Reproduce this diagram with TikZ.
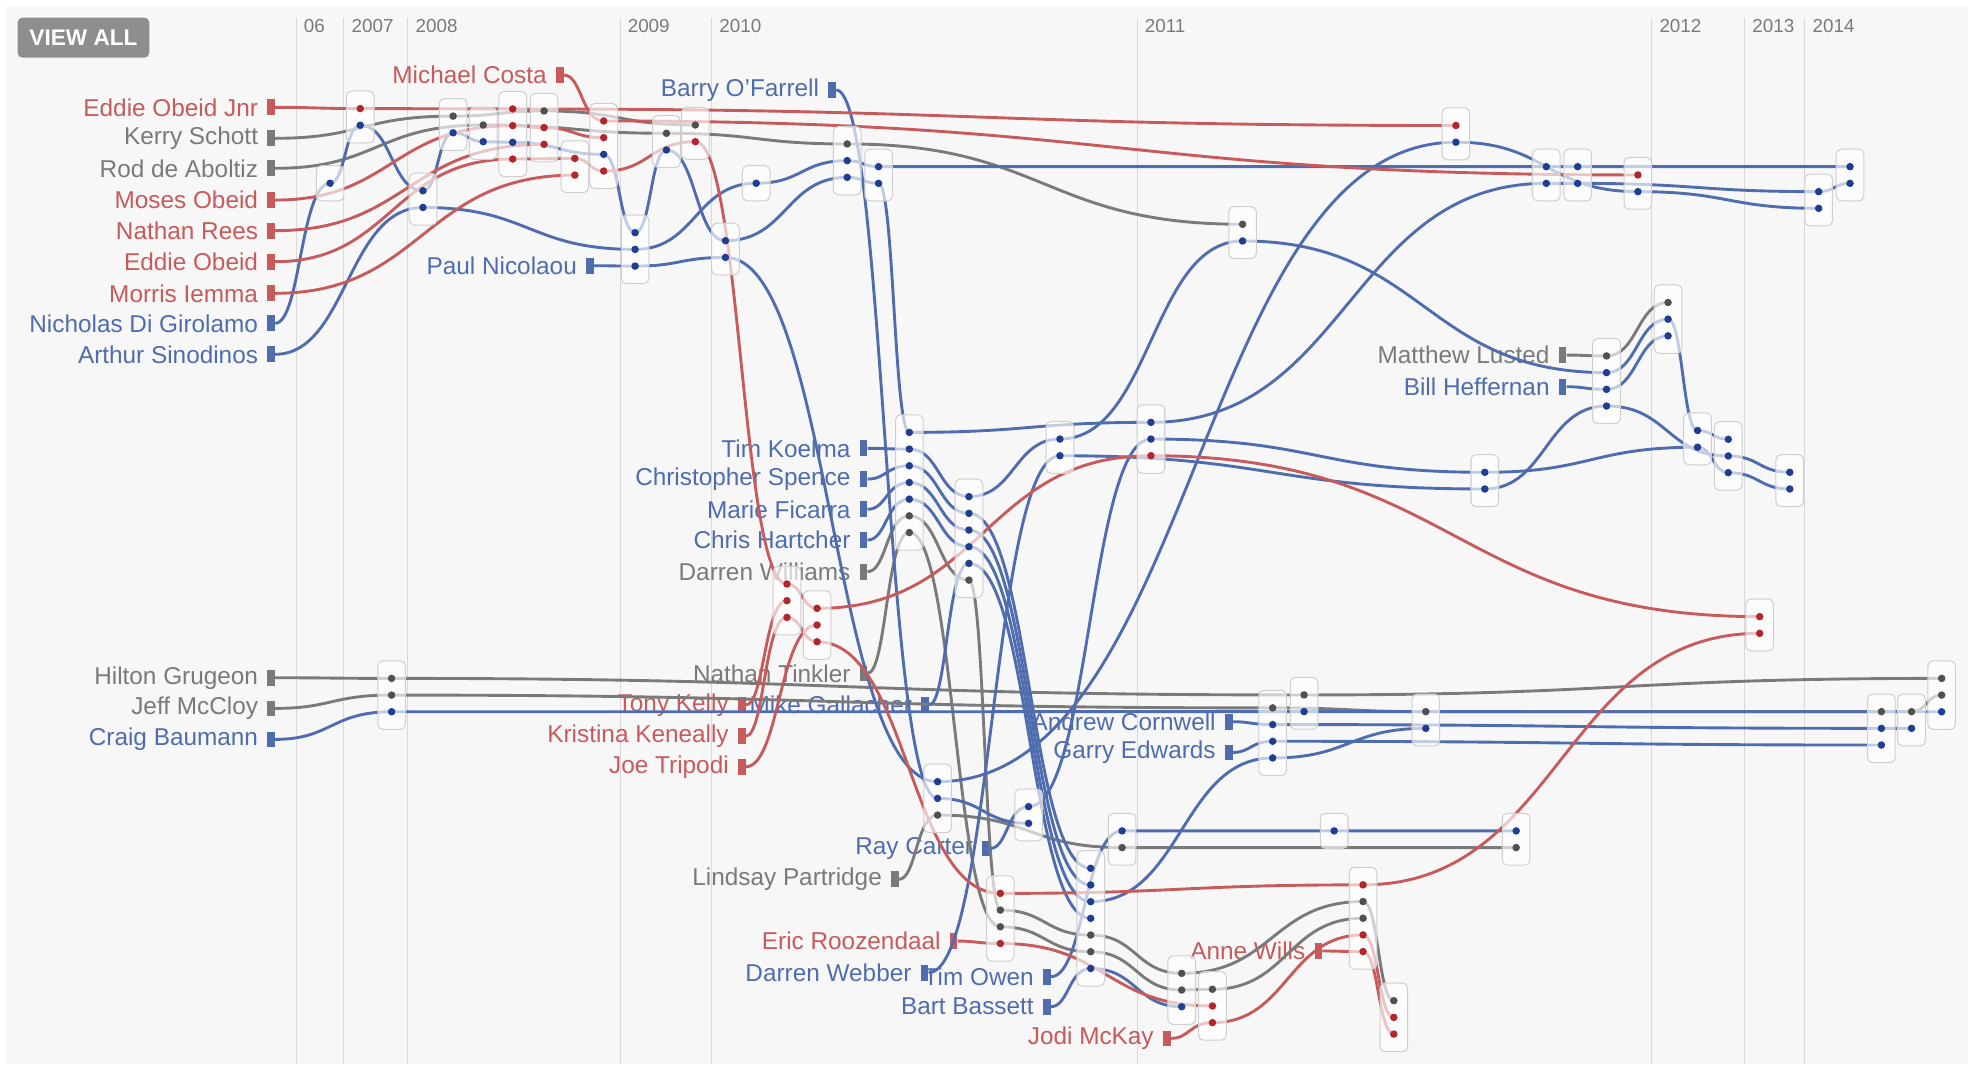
\documentclass[tikz,border=0pt]{standalone}
\usepackage{fontspec}
\setmainfont{Liberation Sans}
\usetikzlibrary{calc,fit}

\definecolor{alpline}{HTML}{C75A5A}
\definecolor{libline}{HTML}{4F6DAE}
\definecolor{indline}{HTML}{7A7A7A}
\definecolor{dotr}{HTML}{B3262B}
\definecolor{dotb}{HTML}{1E3F91}
\definecolor{dotg}{HTML}{505050}
\definecolor{bggray}{HTML}{F7F7F7}
\definecolor{yearline}{HTML}{D9D9D9}
\definecolor{boxedge}{HTML}{CFCFCF}

% meeting groups: name/x/first dot/colours
\newcommand\grplist{%
b1/287/86.5/{r,b},
b2/263/146/{b},
b3/337/152/{b,b},
b4/361/92.5/{g,b},
b5/385/99.6/{g,b},
b6/408.5/86.8/{r,r,b,r},
b7/433.5/88.4/{g,r,r},
b8/458/126.2/{r,r},
b9/481/96.4/{r,r,b,r},
b10/506/185.4/{b,b,b},
b11/531/106.2/{g,b},
b12/554/99.6/{g,r},
b13/602.5/146/{b},
b14/578/191.8/{b,b},
b15/675/114.7/{g,b,b},
b16/700/132.8/{b,b},
b17/990/178.7/{g,b},
b18/1160/100/{r,b},
b19/1232/132.8/{b,b},
b20/1257/132.8/{b,b},
b21/1305/139.4/{r,b},
b22/1449/152.7/{b,b},
b23/1474/132.8/{b,b},
b24/1329/241/{g,b,b},
b25/1280/283.6/{g,b,b,b},
b26/1183/376.3/{b,b},
b27/1352.5/343/{b,b},
b28/1377/350/{b,b,b},
b29/1426/376.3/{b,b},
b30/1402/491.3/{r,r},
b31/1547/540.5/{g,g,b},
b32/1523/567/{g,b},
b33/1499/567/{g,b,b},
b34/1136/567/{g,b},
b35/1039/553.7/{g,b},
b36/1014/564/{g,b,b,b},
b37/724.5/344.5/{b,b,b,b,b,g,g},
b38/772/395.7/{b,b,b,b,b,g},
b39/844.5/349.8/{b,b},
b40/917/336.5/{b,b,r},
b41/627/465.3/{r,r,r},
b42/651/484.7/{r,r,r},
b43/312/540.5/{g,g,b},
b44/747/622.8/{b,b,g},
b45/819.5/642.7/{b,b},
b46/894/662/{b,g},
b47/1063/662/{b},
b48/1208/662/{b,g},
b49/797/711.8/{r,g,g,r},
b50/869/691.8/{b,b,b,b,g,g,b},
b51/941.5/775.5/{g,g,b},
b52/966/788.2/{g,r,r},
b53/1086/705/{r,g,g,r,r},
b54/1110.5/797.3/{g,r,r}}

\begin{document}
\begin{tikzpicture}[x=1pt,y=-1pt,
    font=\fontsize{19.4}{21}\selectfont,
    lk/.style={to path={.. controls ($(\tikztostart)!.5!(\tikztotarget |- \tikztostart)$) and ($(\tikztotarget)!.5!(\tikztostart |- \tikztotarget)$) .. (\tikztotarget)}},
    alp/.style={draw=alpline, line width=2.3pt},
    lib/.style={draw=libline, line width=2.3pt},
    ind/.style={draw=indline, line width=2.3pt},
    who/.style 2 args={fill=#1, inner sep=0pt, minimum width=6pt, minimum height=12.5pt,
        label={[text=#1, inner sep=0pt, label distance=7pt]left:#2}},
    grpbox/.style={draw=boxedge, line width=0.8pt, fill=white, fill opacity=0.65,
        rounded corners=4pt, inner xsep=11pt, inner ysep=14pt},
    yr/.style={text=indline, font=\fontsize{15}{17}\selectfont, anchor=west, inner sep=0pt}]

\useasboundingbox (0,0) rectangle (1568,848);
\fill[bggray] (5,5) rectangle (1568,848);

% years
\foreach \yx/\yl in {236/06, 274/2007, 325/2008, 494/2009, 567/2010, 906/2011, 1316/2012, 1390/2013, 1438/2014} {
    \draw[yearline, line width=0.8pt] (\yx,14) -- (\yx,848);
    \node[yr] (yr-\yl) at (\yx+6,21) {\yl};
}
\node[fill=indline!85, rounded corners=4pt, text=white, font=\bfseries\fontsize{18}{19}\selectfont,
    minimum width=105pt, minimum height=32pt, inner sep=0pt] (viewall) at (66.5,30) {VIEW ALL};

% dot positions
\foreach \nm/\bx/\by/\cols in \grplist {
    \foreach \c [count=\i] in \cols
        \coordinate (\nm-\i) at (\bx,\by+13.3*\i-13.3);
}

% Labor
\node[who={alpline}{Eddie Obeid Jnr}] (eoj) at (216,85.5) {};
\node[who={alpline}{Moses Obeid}] (moses) at (216,159.4) {};
\node[who={alpline}{Nathan Rees}] (rees) at (216,183.8) {};
\node[who={alpline}{Eddie Obeid}] (eddie) at (216,208.5) {};
\node[who={alpline}{Morris Iemma}] (iemma) at (216,233.7) {};
\node[who={alpline}{Michael Costa}] (costa) at (446,59.8) {};
\node[who={alpline}{Tony Kelly}] (kelly) at (591,561.7) {};
\node[who={alpline}{Kristina Keneally}] (keneally) at (591,586.5) {};
\node[who={alpline}{Joe Tripodi}] (tripodi) at (591,610.9) {};
\node[who={alpline}{Eric Roozendaal}] (roozendaal) at (759.8,749.8) {};
\node[who={alpline}{Jodi McKay}] (mckay) at (929.6,827.3) {};
\node[who={alpline}{Anne Wills}] (wills) at (1050.4,757.7) {};

% Liberal
\node[who={libline}{Nicholas Di Girolamo}] (girolamo) at (216,257.6) {};
\node[who={libline}{Arthur Sinodinos}] (sinodinos) at (216,282.3) {};
\node[who={libline}{Craig Baumann}] (baumann) at (216,589.1) {};
\node[who={libline}{Barry O'Farrell}] (ofarrell) at (663,71.7) {};
\node[who={libline}{Paul Nicolaou}] (nicolaou) at (470,211.7) {};
\node[who={libline}{Tim Koelma}] (koelma) at (688,357.2) {};
\node[who={libline}{Christopher Spence}] (spence) at (688,381.7) {};
\node[who={libline}{Marie Ficarra}] (ficarra) at (688,405.8) {};
\node[who={libline}{Chris Hartcher}] (hartcher) at (688,430.3) {};
\node[who={libline}{Mike Gallacher}] (gallacher) at (737,561.7) {};
\node[who={libline}{Andrew Cornwell}] (cornwell) at (979,575) {};
\node[who={libline}{Garry Edwards}] (edwards) at (979,599.5) {};
\node[who={libline}{Bill Heffernan}] (heffernan) at (1245,308.1) {};
\node[who={libline}{Ray Carter}] (carter) at (785.7,676) {};
\node[who={libline}{Darren Webber}] (webber) at (736.6,775) {};
\node[who={libline}{Tim Owen}] (owen) at (834,778.2) {};
\node[who={libline}{Bart Bassett}] (bassett) at (834,802.1) {};

% others
\node[who={indline}{Kerry Schott}] (schott) at (216,110.2) {};
\node[who={indline}{Rod de Aboltiz}] (aboltiz) at (216,134.1) {};
\node[who={indline}{Hilton Grugeon}] (grugeon) at (216,540) {};
\node[who={indline}{Jeff McCloy}] (mccloy) at (216,564.4) {};
\node[who={indline}{Darren Williams}] (williams) at (688,455.5) {};
\node[who={indline}{Nathan Tinkler}] (tinkler) at (688,536.5) {};
\node[who={indline}{Matthew Lusted}] (lusted) at (1245,282.9) {};
\node[who={indline}{Lindsay Partridge}] (partridge) at (713,700.6) {};

% storylines
\draw[ind] (schott) to[lk] (b4-1) to[lk] (b7-1) to[lk] (b12-1);
\draw[ind] (aboltiz) to[lk] (b5-1) to[lk] (b11-1) to[lk] (b15-1) to[lk] (b17-1);
\draw[ind] (lusted) to[lk] (b25-1) to[lk] (b24-1);
\draw[ind] (grugeon) to[lk] (b43-1) to[lk] (b35-1) to[lk] (b31-1);
\draw[ind] (mccloy) to[lk] (b43-2) to[lk] (b36-1) to[lk] (b34-1) to[lk] (b33-1) to[lk] (b32-1) to[lk] (b31-2);
\draw[ind] (williams) to[lk] (b37-6) to[lk] (b38-6) to[lk] (b49-2) to[lk] (b50-5) to[lk] (b51-1) to[lk] (b53-2) to[lk] (b54-1);
\draw[ind] (tinkler) to[lk] (b37-7) to[lk] (b49-3) to[lk] (b50-6) to[lk] (b51-2) to[lk] (b52-1) to[lk] (b53-3);
\draw[ind] (partridge) to[lk] (b44-3) to[lk] (b46-2) to[lk] (b48-2);

\draw[lib] (girolamo) to[lk] (b2-1) to[lk] (b1-2) to[lk] (b3-1) to[lk] (b4-2) to[lk] (b5-2) to[lk] (b6-3)
    to[lk] (b9-3) to[lk] (b10-1) to[lk] (b11-2) to[lk] (b14-1) to[lk] (b15-3) to[lk] (b16-2) to[lk] (b37-1)
    to[lk] (b40-1) to[lk] (b19-2) to[lk] (b20-2) to[lk] (b22-1) to[lk] (b23-2);
\draw[lib] (sinodinos) to[lk] (b3-2) to[lk] (b10-2) to[lk] (b13-1) to[lk] (b15-2) to[lk] (b16-1)
    to[lk] (b19-1) to[lk] (b20-1) to[lk] (b23-1);
\draw[lib] (nicolaou) to[lk] (b10-3) to[lk] (b14-2) to[lk] (b44-1) to[lk] (b18-2) to[lk] (b21-2) to[lk] (b22-2);
\draw[lib] (ofarrell) to[lk] (b44-2) to[lk] (b45-2);
\draw[lib] (koelma) to[lk] (b37-2) to[lk] (b38-1) to[lk] (b39-1) to[lk] (b17-2) to[lk] (b25-2) to[lk] (b24-2)
    to[lk] (b27-1) to[lk] (b28-1);
\draw[lib] (spence) to[lk] (b37-3) to[lk] (b38-2) to[lk] (b50-1);
\draw[lib] (ficarra) to[lk] (b37-4) to[lk] (b38-3) to[lk] (b50-2);
\draw[lib] (hartcher) to[lk] (b37-5) to[lk] (b38-4) to[lk] (b50-3) to[lk] (b36-4) to[lk] (b34-2);
\draw[lib] (gallacher) to[lk] (b38-5) to[lk] (b50-4);
\draw[lib] (webber) to[lk] (b39-2) to[lk] (b26-2) to[lk] (b25-4) to[lk] (b28-2) to[lk] (b29-1);
\draw[lib] (carter) to[lk] (b45-1) to[lk] (b40-2) to[lk] (b26-1) to[lk] (b27-2) to[lk] (b28-3) to[lk] (b29-2);
\draw[lib] (owen) to[lk] (b46-1) to[lk] (b47-1) to[lk] (b48-1);
\draw[lib] (bassett) to[lk] (b50-7) to[lk] (b51-3);
\draw[lib] (heffernan) to[lk] (b25-3) to[lk] (b24-3);
\draw[lib] (cornwell) to[lk] (b36-2) to[lk] (b33-2) to[lk] (b32-2);
\draw[lib] (edwards) to[lk] (b36-3) to[lk] (b33-3);
\draw[lib] (baumann) to[lk] (b43-3) to[lk] (b35-2) to[lk] (b31-3);

\draw[alp] (eoj) to[lk] (b1-1) to[lk] (b6-1) to[lk] (b18-1);
\draw[alp] (costa) to[lk] (b9-1) to[lk] (b21-1);
\draw[alp] (moses) to[lk] (b6-2) to[lk] (b7-2) to[lk] (b9-2);
\draw[alp] (rees) to[lk] (b7-3);
\draw[alp] (eddie) to[lk] (b6-4) to[lk] (b8-1) to[lk] (b9-4) to[lk] (b12-2) to[lk] (b41-1) to[lk] (b42-1)
    to[lk] (b40-3) to[lk] (b30-1);
\draw[alp] (iemma) to[lk] (b8-2);
\draw[alp] (kelly) to[lk] (b41-2);
\draw[alp] (keneally) to[lk] (b41-3) to[lk] (b42-3) to[lk] (b49-1) to[lk] (b53-1) to[lk] (b30-2);
\draw[alp] (tripodi) to[lk] (b42-2);
\draw[alp] (roozendaal) to[lk] (b49-4) to[lk] (b52-2);
\draw[alp] (mckay) to[lk] (b52-3) to[lk] (b53-4) to[lk] (b54-2);
\draw[alp] (wills) to[lk] (b53-5) to[lk] (b54-3);

% boxes and dots on top
\foreach \nm/\bx/\by/\cols in \grplist {
    \foreach \c [count=\i] in \cols {\xdef\ndot{\i}}
    \node[grpbox, fit=(\nm-1)(\nm-\ndot)] (\nm) {};
    \foreach \c [count=\i] in \cols
        \fill[dot\c] (\nm-\i) circle (3);
}
\end{tikzpicture}
\end{document}
